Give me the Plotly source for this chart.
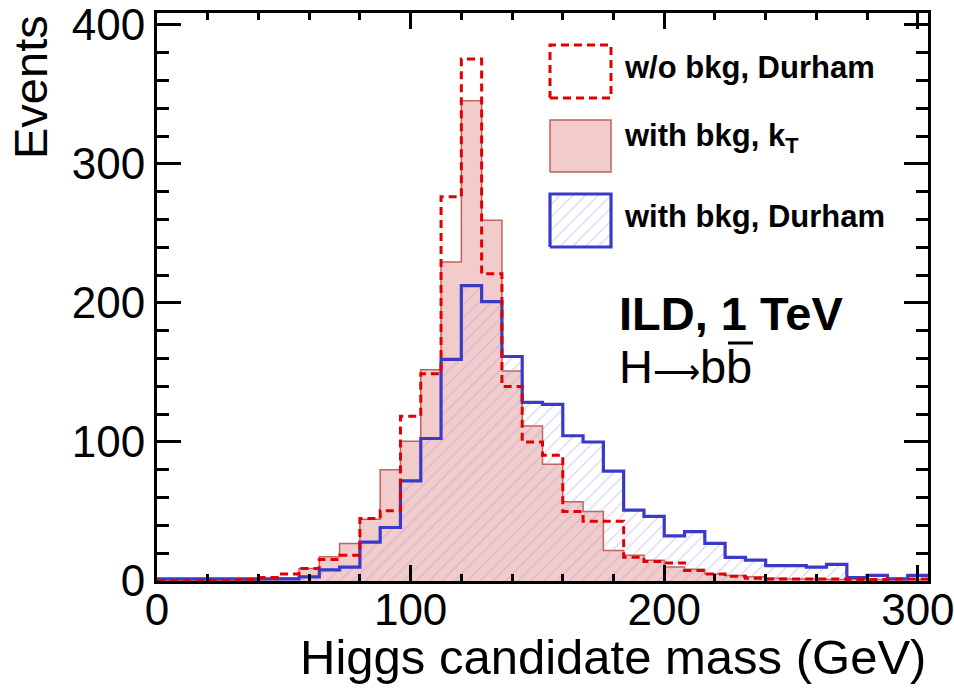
import plotly.graph_objects as go

# ---------------- data ----------------
bin_edges = [0, 8, 16, 24, 32, 40, 48, 56, 64, 72, 80, 88, 96, 104, 112, 120, 128, 136,
             144, 152, 160, 168, 176, 184, 192, 200, 208, 216, 224, 232, 240, 248, 256,
             264, 272, 280, 288, 296, 304]

wo_bkg_durham = [0, 0, 0, 0, 1, 2.5, 5, 9, 15.5, 18.5, 45, 50.5, 118.5, 149, 276.5, 375.5,
                 221, 140, 100, 90.5, 50, 43, 43, 17, 14, 13, 7.5, 5, 3.5, 2, 1.5, 1.5,
                 1.5, 1.5, 1, 1, 1.5, 1.5]
with_bkg_kt = [0, 0, 0, 0, 0.5, 1, 2, 9, 17.5, 27, 44.5, 80, 100.5, 152, 229.5, 345.5,
               259.5, 151, 111.5, 84, 57, 50, 22, 18.5, 15, 10, 8.5, 5, 4, 3, 2, 1.5,
               1.5, 1, 1, 1, 1, 1]
with_bkg_durham = [1.5, 1.5, 1.5, 1.5, 1.5, 1.5, 1.5, 3, 8, 10, 28, 38.5, 72, 102.5, 159.5,
                   212.5, 201, 161.5, 128.5, 127, 104.5, 100, 79, 51, 46.5, 32.5, 35.5, 27,
                   17, 15, 11, 11, 10, 12, 2.5, 4, 1.5, 4]

legend_labels = ["<b>w/o bkg, Durham</b>", "<b>with bkg, k<sub>T</sub></b>",
                 "<b>with bkg, Durham</b>"]
x_title = "Higgs candidate mass (GeV)"
y_title = "Events"
x_range = [0, 304]
y_range = [0, 408.6]

FONT = "Liberation Sans"
PINK_FILL = "#F2CBCB"
PINK_EDGE = "#C2625F"
RED = "#E00000"
BLUE = "#3A3AC8"
HATCH = "#9C9CE2"


def steps(vals):
    return bin_edges, list(vals) + [vals[-1]]


fig = go.Figure()

# with bkg, kT : filled pink
x, y = steps(with_bkg_kt)
fig.add_trace(go.Scatter(x=x, y=y, mode="lines", line=dict(shape="hv", color=PINK_EDGE, width=1.5),
                         fill="tozeroy", fillcolor=PINK_FILL, showlegend=False, hoverinfo="skip"))

# with bkg, Durham : hatched blue
x, y = steps(with_bkg_durham)
fig.add_trace(go.Scatter(x=x, y=y, mode="lines", line=dict(shape="hv", color=BLUE, width=3.2),
                         fill="tozeroy", fillcolor="rgba(0,0,0,0)",
                         fillpattern=dict(shape="/", fgcolor=HATCH, bgcolor="rgba(0,0,0,0)",
                                          size=9, solidity=0.12),
                         showlegend=False, hoverinfo="skip"))

# w/o bkg, Durham : dashed red
x, y = steps(wo_bkg_durham)
fig.add_trace(go.Scatter(x=x, y=y, mode="lines",
                         line=dict(shape="hv", color=RED, width=3, dash="8px,5px"),
                         showlegend=False, hoverinfo="skip"))

# ---------------- custom legend (paper-like overlay axes) ----------------
W, H = 954, 689
L, R, T, B = 157, 26, 13, 108
PW, PH = W - L - R, H - T - B


def px(xp):
    return (xp - L) / PW


def py(yp):
    return (H - B - yp) / PH


box_x0, box_x1 = px(550), px(611)
rows = [(45, 98), (120, 172), (194, 247)]


def rect(r):
    y0, y1 = py(rows[r][1]), py(rows[r][0])
    return [box_x0, box_x1, box_x1, box_x0, box_x0], [y0, y0, y1, y1, y0]


bx, by = rect(0)
fig.add_trace(go.Scatter(x=bx, y=by, xaxis="x2", yaxis="y2", mode="lines",
                         line=dict(color=RED, width=3, dash="8px,5px"),
                         showlegend=False, hoverinfo="skip"))
bx, by = rect(1)
fig.add_trace(go.Scatter(x=bx, y=by, xaxis="x2", yaxis="y2", mode="lines",
                         line=dict(color=PINK_EDGE, width=1.5), fill="toself",
                         fillcolor=PINK_FILL, showlegend=False, hoverinfo="skip"))
bx, by = rect(2)
fig.add_trace(go.Scatter(x=bx, y=by, xaxis="x2", yaxis="y2", mode="lines",
                         line=dict(color=BLUE, width=3.2), fill="toself",
                         fillcolor="rgba(0,0,0,0)",
                         fillpattern=dict(shape="/", fgcolor=HATCH, bgcolor="rgba(0,0,0,0)",
                                          size=9, solidity=0.12),
                         showlegend=False, hoverinfo="skip"))

annotations = []
for i, lab in enumerate(legend_labels):
    cy = [67.5, 137.8, 216][i]
    annotations.append(dict(text=lab, xref="paper", yref="paper", x=px(622), y=py(cy),
                            xanchor="left", yanchor="middle", showarrow=False,
                            font=dict(family=FONT, size=31, color="black")))

annotations.append(dict(text="<b>ILD, 1 TeV</b>", xref="paper", yref="paper", x=px(617),
                        y=py(313), xanchor="left", yanchor="middle", showarrow=False,
                        font=dict(family=FONT, size=47, color="black")))
annotations.append(dict(text="H<span style='font-size:33px'>\u27f6</span>bb", xref="paper",
                        yref="paper", x=px(617), y=py(366), xanchor="left", yanchor="middle",
                        showarrow=False, font=dict(family=FONT, size=47, color="black")))
annotations.append(dict(text=x_title, xref="paper", yref="paper", x=1.0, y=py(657),
                        xanchor="right", yanchor="middle", showarrow=False,
                        font=dict(family=FONT, size=49, color="black")))
annotations.append(dict(text=y_title, xref="paper", yref="paper", x=px(30), y=1.0,
                        xanchor="center", yanchor="top", textangle=-90, showarrow=False,
                        font=dict(family=FONT, size=47, color="black")))

shapes = [dict(type="line", xref="paper", yref="paper", x0=px(728), x1=px(753),
               y0=py(343), y1=py(343), line=dict(color="black", width=3))]

axis_common = dict(showline=True, linecolor="black", linewidth=3, mirror="ticks",
                   ticks="inside", tickwidth=3, tickcolor="black", showgrid=False,
                   zeroline=False, automargin=False, ticklabeloverflow="allow",
                   tickfont=dict(family=FONT, size=44, color="black"))

fig.update_layout(
    width=W, height=H,
    margin=dict(l=L, r=R, t=T, b=B, pad=0),
    paper_bgcolor="white", plot_bgcolor="white",
    xaxis=dict(range=x_range, dtick=100, tick0=0, ticklen=16, ticklabelstandoff=-12,
               minor=dict(ticks="inside", dtick=20, ticklen=7, tickwidth=3, tickcolor="black"),
               **axis_common),
    yaxis=dict(range=y_range, dtick=100, tick0=0, ticklen=24,
               minor=dict(ticks="inside", dtick=20, ticklen=12, tickwidth=3, tickcolor="black"),
               **axis_common),
    xaxis2=dict(overlaying="x", range=[0, 1], visible=False, anchor="y2"),
    yaxis2=dict(overlaying="y", range=[0, 1], visible=False, anchor="x2"),
    annotations=annotations,
    shapes=shapes,
    showlegend=False,
)

fig.write_html("out.html")
